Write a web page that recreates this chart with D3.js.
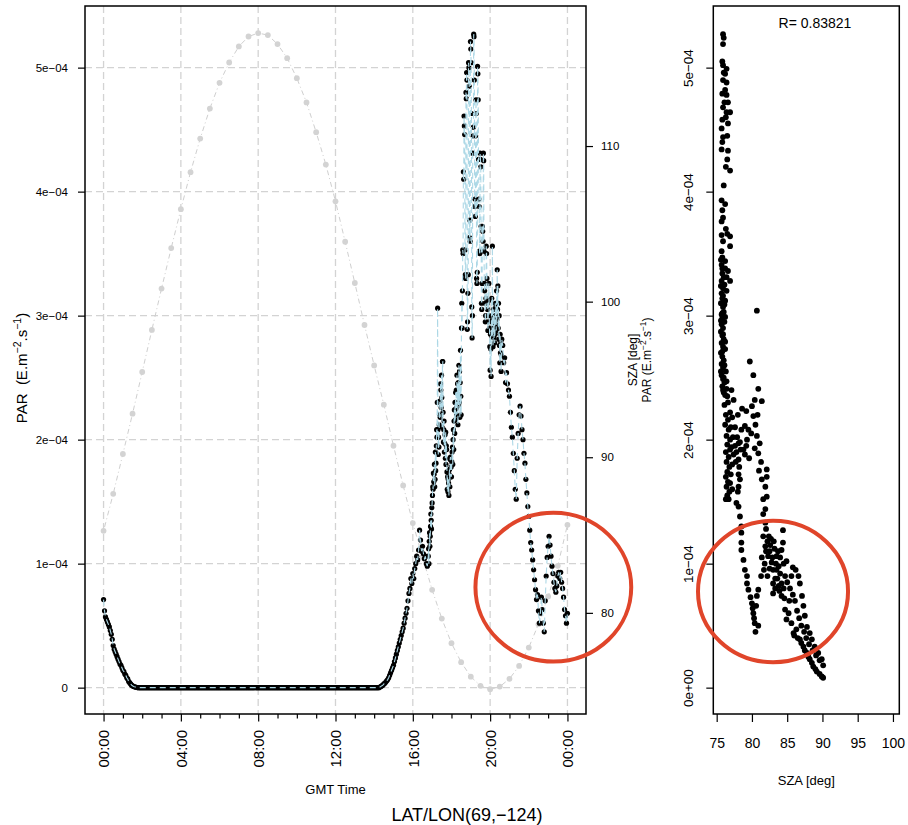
<!DOCTYPE html>
<html>
<head>
<meta charset="utf-8">
<script src="https://cdn.jsdelivr.net/npm/d3@7"></script>
<style>
  body { margin: 0; background: #fff; }
  svg { font-family: "Liberation Sans", Arial, Helvetica, sans-serif; }
</style>
</head>
<body>
<svg id="chart" width="908" height="825"></svg>
<script>
// ---- data: PAR in units of 1e-4 E.m-2.s-1, times in minutes after 00:00 GMT ----

// 00:00 - 01:45, every 3 min
var parEarly = [
  0.71, 0.62, 0.57, 0.55, 0.53, 0.51, 0.49, 0.46, 0.43, 0.39,
  0.34, 0.31, 0.29, 0.27, 0.25, 0.23, 0.21, 0.19, 0.18, 0.16,
  0.14, 0.13, 0.11, 0.10, 0.08, 0.07, 0.05, 0.04, 0.03, 0.02,
  0.015, 0.01, 0.007, 0.005, 0.003, 0.001
];

// 01:48 - 14:15, every 3 min
var parNight = [
  0, 0, 0, 0, 0, 0, 0, 0, 0, 0,
  0, 0, 0, 0, 0, 0, 0, 0, 0, 0,
  0, 0, 0, 0, 0, 0, 0, 0, 0, 0,
  0, 0, 0, 0, 0, 0, 0, 0, 0, 0,
  0, 0, 0, 0, 0, 0, 0, 0, 0, 0,
  0, 0, 0, 0, 0, 0, 0, 0, 0, 0,
  0, 0, 0, 0, 0, 0, 0, 0, 0, 0,
  0, 0, 0, 0, 0, 0, 0, 0, 0, 0,
  0, 0, 0, 0, 0, 0, 0, 0, 0, 0,
  0, 0, 0, 0, 0, 0, 0, 0, 0, 0,
  0, 0, 0, 0, 0, 0, 0, 0, 0, 0,
  0, 0, 0, 0, 0, 0, 0, 0, 0, 0,
  0, 0, 0, 0, 0, 0, 0, 0, 0, 0,
  0, 0, 0, 0, 0, 0, 0, 0, 0, 0,
  0, 0, 0, 0, 0, 0, 0, 0, 0, 0,
  0, 0, 0, 0, 0, 0, 0, 0, 0, 0,
  0, 0, 0, 0, 0, 0, 0, 0, 0, 0,
  0, 0, 0, 0, 0, 0, 0, 0, 0, 0,
  0, 0, 0, 0, 0, 0, 0, 0, 0, 0,
  0, 0, 0, 0, 0, 0, 0, 0, 0, 0,
  0, 0, 0, 0, 0, 0, 0, 0, 0, 0,
  0, 0, 0, 0, 0, 0, 0, 0, 0, 0,
  0, 0, 0, 0, 0, 0, 0, 0, 0, 0,
  0, 0, 0, 0, 0, 0, 0, 0, 0, 0,
  0, 0, 0, 0, 0, 0, 0, 0, 0, 0
];

// 14:18 - 16:45, every 3 min
var parRise = [
  0.005, 0.01, 0.015, 0.02, 0.03, 0.035, 0.045, 0.055, 0.065, 0.08,
  0.10, 0.12, 0.14, 0.16, 0.18, 0.21, 0.24, 0.27, 0.30, 0.33,
  0.36, 0.39, 0.42, 0.45, 0.48, 0.52, 0.56, 0.60, 0.64, 0.70,
  0.76, 0.80, 0.88, 0.84, 0.92, 0.88, 0.96, 1.00, 1.06, 1.03,
  1.11, 1.27, 1.19, 1.10, 1.14, 1.08, 1.04, 1.06, 1.00, 0.98
];

// 16:48 - 20:35, every minute (cloudy afternoon)
var parCloudy = [
  1.06, 1.12, 1.00,  1.18, 1.25, 1.14,  1.22, 1.30, 1.40,  1.35, 1.28, 1.45,
  1.49, 1.55, 1.62,  1.60, 1.73, 1.66,  1.72, 1.80, 1.62,  1.68, 1.90, 1.75,
  1.81, 1.95, 2.08,  2.02, 2.30, 3.06,  2.08, 1.88, 2.02,  1.94, 2.12, 2.20,
  2.31, 2.18, 2.45,  2.40, 2.26, 2.52,  2.34, 2.10, 2.63,  2.63, 2.22, 1.98,
  2.08, 2.15, 1.90,  1.97, 2.04, 1.85,  2.06, 1.80, 1.95,  1.92, 1.74, 1.60,
  1.70, 1.58, 1.68,  1.65, 1.55, 1.72,  1.76, 1.62, 1.84,  1.86, 1.70, 1.78,
  1.70, 1.82, 1.90,  1.94, 1.80, 2.00,  2.08, 1.92, 2.15,  2.24, 2.05, 2.30,
  2.16, 2.38, 2.25,  2.40, 2.20, 2.52,  2.27, 2.45, 2.12,  2.46, 2.28, 2.60,
  2.30, 2.55, 2.18,  2.46, 2.72, 2.35,  2.20, 2.90, 3.10,
  2.90, 3.20, 3.53, 3.50, 4.16, 4.10,  4.61, 4.53, 4.46, 3.53, 3.33, 3.30,
  4.80, 4.75, 4.96, 4.90, 2.89, 2.95,  3.18, 3.33, 5.04, 5.00, 4.85, 3.63,
  3.77, 3.60, 5.21, 5.15, 5.04, 4.63,  3.07, 2.82, 3.00, 4.31, 4.45, 4.52,
  5.27, 5.25, 4.90, 3.88, 3.94, 3.80,  4.45, 4.74, 4.63, 3.30, 3.26, 3.35,
  5.01, 4.95, 4.74, 4.26, 3.94, 3.88,  3.52, 3.50, 4.31, 4.26, 4.20, 3.72,
  3.10, 3.05, 3.26, 3.72, 3.68, 3.60,  4.31, 4.25, 3.52, 3.26, 3.20, 3.10,
  2.95, 3.00, 3.14, 3.56, 3.50, 3.30,  3.10, 3.05, 2.88, 2.95, 3.12, 3.26,
  3.00, 2.90, 2.75,
  2.56, 2.85, 2.73,  2.51, 2.95, 3.14,  2.83, 3.56, 2.97,  2.75, 3.05, 2.90,
  2.82, 3.00, 2.78,  2.85, 3.10, 2.93,  3.07, 2.88, 3.20,  2.97, 3.37, 3.05,
  3.24, 2.90, 3.10,  2.81, 3.00, 2.76,  2.62, 2.85, 2.70,  2.79, 2.55, 2.68
];

// 20:36 - 24:00, every 3 min
var parEvening = [
  2.81, 2.76, 2.62, 2.66, 2.46, 2.54, 2.45, 2.40, 2.35,
  2.22, 2.10, 2.02, 1.89, 1.75, 1.60, 1.52, 1.85, 2.05, 2.20,
  2.27, 2.19, 2.08, 2.00, 1.89, 1.81, 1.68, 1.57, 1.46, 1.38,
  1.27, 1.17, 1.11, 1.03, 0.95, 0.87, 0.79, 0.71, 0.75, 0.62,
  0.52, 0.60, 0.73, 0.63, 0.52, 0.45, 0.70, 0.90, 1.05, 1.14,
  1.22, 1.15, 1.06, 0.98, 0.92, 0.85, 0.80, 0.77, 0.82, 0.90,
  0.93, 0.88, 0.93, 0.85, 0.80, 0.73, 0.63, 0.58, 0.52, 0.60
];

var parSegmentStarts = [0, 108, 858, 1008, 1236];   // minutes
var parSegmentSteps = [3, 3, 3, 1, 3];              // minutes

// solar zenith angle, every 30 minutes from 00:00 to 24:00 GMT
var szaStepMinutes = 30;
var szaValues = [
  85.27, 87.65, 90.21, 92.80, 95.48, 98.18, 100.84, 103.44, 105.94, 108.32,
  110.48, 112.41, 114.06, 115.37, 116.40, 117.04, 117.26, 117.13, 116.55, 115.65,
  114.36, 112.80, 110.89, 108.81, 106.45, 103.85, 101.20, 98.50, 95.90, 93.38,
  90.74, 88.19, 85.77, 83.60, 81.48, 79.63, 78.05, 76.83, 75.90, 75.31,
  75.09, 75.26, 75.76, 76.59, 77.77, 79.27, 81.05, 83.02, 85.66
];

// scatter: [SZA deg, PAR 1e-4] for the sunlit samples
var szaParPoints = [
  [75.9, 5.27], [76.0, 5.24], [75.9, 5.19], [75.8, 5.05], [75.9, 5.02], [76.4, 4.99], [76.2, 4.95], [75.9, 4.90],
  [76.4, 4.88], [76.2, 4.82], [75.8, 4.79], [76.4, 4.78], [76.6, 4.72], [75.9, 4.68], [76.4, 4.64], [76.9, 4.64],
  [76.3, 4.60], [76.6, 4.55], [75.7, 4.51], [75.9, 4.44], [75.8, 4.40], [76.6, 4.33], [76.5, 4.26], [75.7, 4.34],
  [76.9, 4.17], [75.7, 3.93], [76.2, 3.90], [75.7, 3.76], [75.9, 3.79], [76.5, 3.66], [76.9, 3.64], [76.9, 3.56],
  [75.9, 3.60], [75.7, 3.52], [75.8, 3.47], [76.2, 3.44], [75.7, 3.41], [76.2, 3.38], [76.6, 3.36], [75.8, 3.34],
  [76.4, 3.31], [76.9, 3.28], [75.7, 3.28], [76.1, 3.25], [75.9, 3.22], [76.4, 3.20], [75.7, 3.18], [75.8, 3.14],
  [76.2, 3.12], [75.6, 3.10], [75.9, 3.07], [76.0, 3.03], [75.7, 3.01], [75.8, 2.98], [76.1, 2.95], [75.7, 2.93],
  [75.9, 2.90], [75.6, 2.87], [75.8, 2.84], [76.0, 2.81], [75.7, 2.78], [75.9, 2.75], [76.2, 2.73], [75.6, 2.70],
  [75.8, 2.67], [76.0, 2.64], [75.7, 2.61], [75.9, 2.58], [76.3, 2.55], [75.7, 2.52], [75.9, 2.49], [76.1, 2.46],
  [75.8, 2.43], [76.4, 2.41], [80.7, 3.04],
  [75.6, 3.45], [75.8, 3.38], [76.0, 3.31], [75.6, 3.24], [75.9, 3.16], [76.1, 3.09], [75.8, 3.02], [76.2, 2.99],
  [75.6, 2.96], [75.9, 2.85], [76.2, 2.79], [75.8, 2.71], [76.1, 2.60], [75.6, 2.55], [76.0, 2.50], [76.4, 2.47],
  [75.9, 2.40], [76.2, 2.36], [75.7, 3.65], [76.3, 3.70], [75.8, 3.85], [76.0, 4.05], [76.3, 4.20], [75.8, 4.58],
  [76.1, 4.72], [76.0, 4.96], [76.5, 4.45],
  [76.0, 2.38], [76.5, 2.35], [77.1, 2.40], [77.4, 2.32], [76.6, 2.30], [76.9, 2.22], [76.6, 2.16], [76.1, 2.28],
  [76.3, 2.20], [76.2, 2.12], [76.7, 2.08], [76.4, 2.03], [76.9, 2.00], [76.5, 1.96], [76.3, 1.90], [76.7, 1.86],
  [76.4, 1.82], [76.8, 1.78], [76.5, 1.74], [76.3, 1.70], [76.6, 1.66], [76.4, 1.62], [76.8, 1.58], [76.5, 1.55],
  [76.3, 1.52], [77.2, 2.18], [77.0, 2.10], [77.3, 2.02], [77.1, 1.94], [77.4, 1.88], [76.9, 1.92], [77.2, 1.80],
  [77.0, 1.72], [76.9, 1.65], [77.2, 1.60], [76.7, 1.52],
  [79.7, 2.63], [80.2, 2.52], [80.9, 2.41], [80.4, 2.32], [81.4, 2.31], [80.0, 2.27], [80.2, 2.19], [79.0, 2.11],
  [79.5, 2.08], [78.5, 2.08], [80.7, 2.03], [78.1, 1.97], [79.3, 2.00], [81.1, 1.97], [78.8, 1.92], [80.4, 1.93],
  [80.9, 1.89], [77.6, 2.10], [77.9, 2.02], [78.3, 1.98], [77.8, 1.90], [79.0, 1.88], [79.6, 1.85], [78.0, 2.20],
  [78.6, 2.25], [79.2, 2.23], [77.7, 1.82], [77.6, 1.95], [78.4, 1.92], [79.2, 1.95], [79.9, 2.05], [80.5, 2.12],
  [80.8, 2.20],
  [78.1, 1.84], [78.2, 1.78], [78.1, 1.72], [78.3, 1.68], [78.1, 1.62], [78.0, 1.58], [77.8, 1.49], [78.1, 1.46],
  [78.3, 1.38], [78.5, 1.30], [78.5, 1.25], [78.5, 1.17], [78.5, 1.11], [78.8, 1.03], [79.0, 0.95], [79.3, 0.90],
  [79.3, 0.84], [79.5, 0.79], [79.8, 0.73], [80.0, 0.68], [80.1, 0.64], [80.2, 0.60], [80.4, 0.52], [80.5, 0.45],
  [80.3, 0.56], [80.7, 0.74], [80.9, 0.79], [81.3, 0.90], [80.6, 0.66], [80.9, 0.50],
  [81.0, 1.75], [81.4, 1.68], [81.9, 1.62], [82.1, 1.76], [82.1, 1.70], [82.1, 1.54], [81.6, 1.52], [81.9, 1.44],
  [81.3, 1.82], [81.6, 1.40],
  [81.9, 1.33], [81.6, 1.22], [81.9, 1.14], [82.3, 1.06], [82.8, 1.01], [83.0, 0.95], [83.0, 0.84], [83.0, 0.76],
  [83.5, 1.06], [83.5, 0.95], [84.2, 1.11], [84.4, 1.17], [84.4, 1.27], [84.7, 0.90], [84.2, 0.84], [84.2, 0.74],
  [82.0, 1.28], [82.2, 1.18], [82.5, 1.10], [82.7, 1.20], [83.2, 1.12], [83.4, 1.00], [83.8, 0.98], [84.0, 1.05],
  [83.6, 0.88], [83.3, 0.80], [82.5, 0.96], [82.2, 0.90], [81.8, 1.00], [84.5, 0.80], [83.9, 0.78], [84.9, 1.02],
  [82.6, 1.15], [82.9, 1.05], [83.1, 1.18], [83.7, 1.10], [84.0, 0.92], [83.3, 0.88], [84.5, 1.00], [82.4, 1.22],
  [83.8, 0.82], [84.6, 0.72], [85.3, 0.70], [85.6, 0.90], [82.0, 1.10], [81.4, 1.05], [81.7, 0.95],
  [86.6, 0.90], [86.8, 0.84], [87.1, 0.74], [87.3, 0.66], [87.5, 0.58], [87.8, 0.49], [88.2, 0.44], [88.5, 0.39],
  [88.9, 0.33], [89.4, 0.28], [89.9, 0.23], [86.2, 0.95], [85.8, 0.97],
  [85.0, 0.85], [85.4, 0.80], [85.8, 0.75], [86.1, 0.70], [86.4, 0.62], [86.7, 0.56], [87.0, 0.50], [87.4, 0.45],
  [87.7, 0.40], [88.1, 0.35], [88.6, 0.30], [89.1, 0.26], [89.6, 0.22], [90.1, 0.18],
  [84.7, 0.63], [84.9, 0.55], [85.6, 0.52], [85.9, 0.44], [86.3, 0.47], [86.8, 0.39], [87.3, 0.33], [87.8, 0.28],
  [88.2, 0.23], [88.7, 0.17], [89.2, 0.13], [89.9, 0.09], [85.2, 0.60], [86.0, 0.42], [86.5, 0.40], [87.0, 0.36],
  [87.5, 0.30], [88.0, 0.25], [88.5, 0.20], [89.0, 0.15], [89.6, 0.11], [90.1, 0.08]
];

// ticks and labels
var hourTicks = [0, 4, 8, 12, 16, 20, 24];
var hourTickLabels = ["00:00", "04:00", "08:00", "12:00", "16:00", "20:00", "00:00"];
var parTicks = [0, 1, 2, 3, 4, 5];
var parTickLabels = ["0", "1e\u221204", "2e\u221204", "3e\u221204", "4e\u221204", "5e\u221204"];
var parSciLabels = ["0e+00", "1e\u221204", "2e\u221204", "3e\u221204", "4e\u221204", "5e\u221204"];
var szaRightTicks = [80, 90, 100, 110];
var szaBottomTicks = [75, 80, 85, 90, 95, 100];
var correlationLabel = "R= 0.83821";
var locationTitle = "LAT/LON(69,\u2212124)";

// hand-drawn highlight circles, in data units
var highlightTime = { hour: 23.27, par: 0.81, hourRadius: 4.03, parRadius: 0.60 };
var highlightScatter = { sza: 82.99, par: 0.775, szaRadius: 10.64, parRadius: 0.57 };

// ---- layout ----
var svg = d3.select("#chart");
var left = { x0: 85, x1: 586, y0: 6, y1: 714 };
var right = { x0: 713.3, x1: 899.3, y0: 6, y1: 714 };

var parSeries = [];
[parEarly, parNight, parRise, parCloudy, parEvening].forEach(function(values, s) {
  values.forEach(function(v, i) {
    parSeries.push({ hour: (parSegmentStarts[s] + i * parSegmentSteps[s]) / 60, par: v });
  });
});
var szaSeries = szaValues.map(function(v, i) {
  return { hour: i * szaStepMinutes / 60, sza: v };
});

var x = d3.scaleLinear().domain([-0.96, 24.96]).range([left.x0, left.x1]);
var yPar = d3.scaleLinear().domain([-0.2125, 5.497]).range([left.y1, left.y0]);
var ySza = d3.scaleLinear().domain([73.5, 119.0]).range([left.y1, left.y0]);
var xSza = d3.scaleLinear().domain([74.52, 100.9]).range([right.x0, right.x1]);

var gridColor = "#d3d3d3";

// ---- left panel: time series ----
var grid = svg.append("g").attr("stroke", gridColor).attr("stroke-width", 1.3).attr("stroke-dasharray", "7,4");
grid.selectAll("line.v").data(hourTicks).enter().append("line")
  .attr("x1", function(d) { return x(d); }).attr("x2", function(d) { return x(d); })
  .attr("y1", left.y0).attr("y2", left.y1);
grid.selectAll("line.h").data(parTicks).enter().append("line")
  .attr("x1", left.x0).attr("x2", left.x1)
  .attr("y1", function(d) { return yPar(d); }).attr("y2", function(d) { return yPar(d); });

// SZA curve (grey, dot-dash)
svg.append("path").datum(szaSeries)
  .attr("fill", "none").attr("stroke", "#cfcfcf").attr("stroke-width", 1)
  .attr("stroke-dasharray", "1,3,5,3")
  .attr("d", d3.line().x(function(d) { return x(d.hour); }).y(function(d) { return ySza(d.sza); }));
svg.append("g").selectAll("circle").data(szaSeries).enter().append("circle")
  .attr("cx", function(d) { return x(d.hour); })
  .attr("cy", function(d) { return ySza(d.sza); })
  .attr("r", 2.9).attr("fill", "#d3d3d3");

// PAR points, then the light blue dashed line on top
svg.append("g").selectAll("circle").data(parSeries).enter().append("circle")
  .attr("cx", function(d) { return x(d.hour); })
  .attr("cy", function(d) { return yPar(d.par); })
  .attr("r", 2.6).attr("fill", "#000");
svg.append("path").datum(parSeries)
  .attr("fill", "none").attr("stroke", "#add8e6").attr("stroke-width", 1.1)
  .attr("stroke-dasharray", "6,4")
  .attr("d", d3.line().x(function(d) { return x(d.hour); }).y(function(d) { return yPar(d.par); }));

svg.append("rect").attr("x", left.x0).attr("y", left.y0)
  .attr("width", left.x1 - left.x0).attr("height", left.y1 - left.y0)
  .attr("fill", "none").attr("stroke", "#000").attr("stroke-width", 1.5);

function tidyAxis(g, size) {
  g.attr("font-family", null).attr("font-size", size);
  g.select(".domain").remove();
  g.selectAll(".tick line").attr("stroke-width", 1.2);
}

// left y axis
var gYL = svg.append("g").attr("transform", "translate(" + left.x0 + ",0)")
  .call(d3.axisLeft(yPar).tickValues(parTicks)
    .tickFormat(function(d, i) { return parTickLabels[i]; }).tickSize(7).tickPadding(10));
tidyAxis(gYL, 11.5);

// right SZA axis
var gYR = svg.append("g").attr("transform", "translate(" + left.x1 + ",0)")
  .call(d3.axisRight(ySza).tickValues(szaRightTicks).tickSize(7).tickPadding(8));
tidyAxis(gYR, 11.5);

// bottom time axis: hourly minor ticks, 4-hourly labelled ticks
var minorHours = d3.range(0, 25).filter(function(h) { return h % 4 !== 0; });
var gXm = svg.append("g").attr("transform", "translate(0," + left.y1 + ")")
  .call(d3.axisBottom(x).tickValues(minorHours).tickFormat("").tickSize(4.5));
tidyAxis(gXm, 10);
var gX = svg.append("g").attr("transform", "translate(0," + left.y1 + ")")
  .call(d3.axisBottom(x).tickValues(hourTicks)
    .tickFormat(function(d, i) { return hourTickLabels[i]; }).tickSize(7.5));
tidyAxis(gX, 15);
gX.selectAll(".tick text")
  .attr("transform", "rotate(-90)").attr("text-anchor", "end")
  .attr("x", -16).attr("y", 0).attr("dy", "0.36em");

svg.append("text").attr("x", (left.x0 + left.x1) / 2).attr("y", 794)
  .attr("text-anchor", "middle").attr("font-size", 13).text("GMT Time");
svg.append("text").attr("x", 467).attr("y", 821)
  .attr("text-anchor", "middle").attr("font-size", 18).text(locationTitle);

function parUnitLabel(sel, base, gap) {
  sel.append("tspan").text("PAR" + gap + "(E.m");
  sel.append("tspan").attr("font-size", base * 0.7).attr("dy", -base * 0.42).text("\u22122");
  sel.append("tspan").attr("dy", base * 0.42).text(".s");
  sel.append("tspan").attr("font-size", base * 0.7).attr("dy", -base * 0.42).text("\u22121");
  sel.append("tspan").attr("dy", base * 0.42).text(")");
}

var leftTitle = svg.append("text")
  .attr("transform", "translate(27,368) rotate(-90)")
  .attr("text-anchor", "middle").attr("font-size", 15);
parUnitLabel(leftTitle, 15, "\u00a0\u00a0");

svg.append("text")
  .attr("transform", "translate(637," + (left.y0 + left.y1) / 2 + ") rotate(-90)")
  .attr("text-anchor", "middle").attr("font-size", 12).text("SZA [deg]");
var rightTitle = svg.append("text")
  .attr("transform", "translate(651," + (left.y0 + left.y1) / 2 + ") rotate(-90)")
  .attr("text-anchor", "middle").attr("font-size", 12);
parUnitLabel(rightTitle, 12, " ");

// ---- right panel: PAR vs SZA ----
svg.append("g").selectAll("circle").data(szaParPoints).enter().append("circle")
  .attr("cx", function(d) { return xSza(d[0]); })
  .attr("cy", function(d) { return yPar(d[1]); })
  .attr("r", 2.9).attr("fill", "#000");

svg.append("rect").attr("x", right.x0).attr("y", right.y0)
  .attr("width", right.x1 - right.x0).attr("height", right.y1 - right.y0)
  .attr("fill", "none").attr("stroke", "#000").attr("stroke-width", 1.5);

var gSY = svg.append("g").attr("transform", "translate(" + right.x0 + ",0)")
  .call(d3.axisLeft(yPar).tickValues(parTicks)
    .tickFormat(function(d, i) { return parSciLabels[i]; }).tickSize(7));
tidyAxis(gSY, 13.5);
gSY.selectAll(".tick text")
  .attr("transform", "rotate(-90)").attr("text-anchor", "middle")
  .attr("x", 0).attr("y", -20).attr("dy", 0);

var gSX = svg.append("g").attr("transform", "translate(0," + right.y1 + ")")
  .call(d3.axisBottom(xSza).tickValues(szaBottomTicks).tickSize(8));
tidyAxis(gSX, 14);
gSX.selectAll(".tick text").attr("y", 34).attr("dy", 0);

svg.append("text").attr("x", (right.x0 + right.x1) / 2).attr("y", 785)
  .attr("text-anchor", "middle").attr("font-size", 13).text("SZA [deg]");
svg.append("text").attr("x", 815).attr("y", 28)
  .attr("text-anchor", "middle").attr("font-size", 14).text(correlationLabel);

// ---- red highlight ellipses ----
var ringColor = "#e0452a";
svg.append("ellipse")
  .attr("cx", x(highlightTime.hour)).attr("cy", yPar(highlightTime.par))
  .attr("rx", x(highlightTime.hour + highlightTime.hourRadius) - x(highlightTime.hour))
  .attr("ry", yPar(highlightTime.par) - yPar(highlightTime.par + highlightTime.parRadius))
  .attr("fill", "none").attr("stroke", ringColor).attr("stroke-width", 4);
svg.append("ellipse")
  .attr("cx", xSza(highlightScatter.sza)).attr("cy", yPar(highlightScatter.par))
  .attr("rx", xSza(highlightScatter.sza + highlightScatter.szaRadius) - xSza(highlightScatter.sza))
  .attr("ry", yPar(highlightScatter.par) - yPar(highlightScatter.par + highlightScatter.parRadius))
  .attr("fill", "none").attr("stroke", ringColor).attr("stroke-width", 4);
</script>
</body>
</html>
